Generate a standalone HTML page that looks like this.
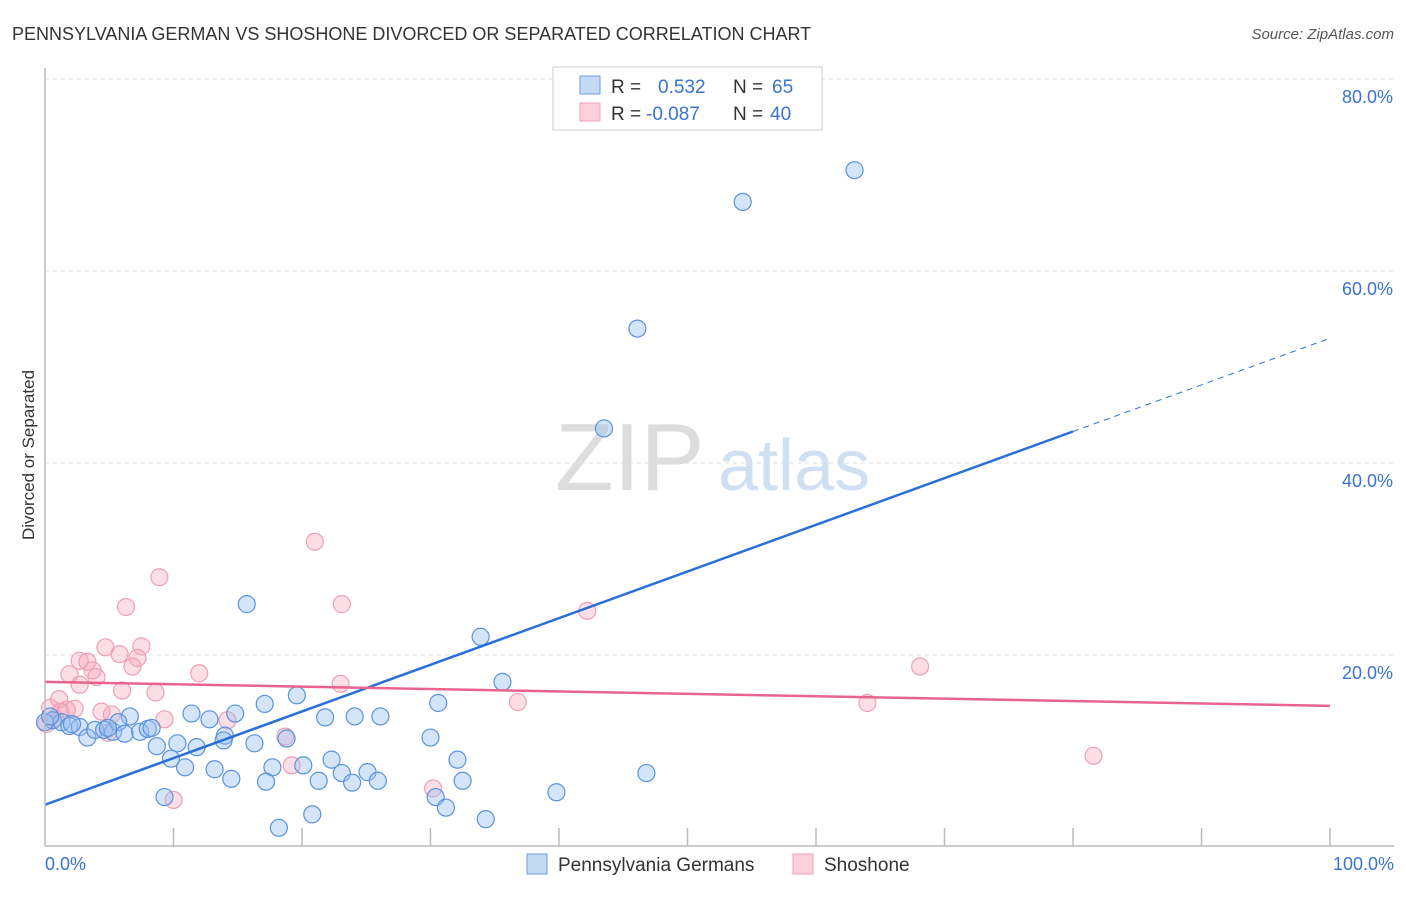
<!DOCTYPE html>
<html><head><meta charset="utf-8"><style>
body{margin:0;background:#fff;font-family:"Liberation Sans",sans-serif}
svg text{font-family:"Liberation Sans",sans-serif}
</style></head><body>
<svg width="1406" height="892" id="chart">
<text x="12" y="40" font-size="18" fill="#333">PENNSYLVANIA GERMAN VS SHOSHONE DIVORCED OR SEPARATED CORRELATION CHART</text>
<text x="1394" y="39" font-size="15" fill="#555" font-style="italic" text-anchor="end">Source: ZipAtlas.com</text>
<text transform="translate(34,455) rotate(-90)" font-size="17" fill="#333" text-anchor="middle">Divorced or Separated</text>
<text x="555" y="490" font-size="96" fill="#ddd" font-family="Liberation Serif">ZIP</text>
<text x="718" y="490" font-size="72" fill="#cfe0f3">atlas</text>
<g id="grid"></g><g id="pts"></g><g id="lines"></g>
<line x1="45" y1="68" x2="45" y2="846" stroke="#bbb" stroke-width="1.5"/>
<line x1="45" y1="846" x2="1394" y2="846" stroke="#bbb" stroke-width="1.5"/>
<text x="45" y="870" font-size="18" fill="#3a73d0">0.0%</text>
<text x="1394" y="870" font-size="18" fill="#3a73d0" text-anchor="end">100.0%</text>
<g>
<rect x="553" y="67" width="269" height="63" fill="#fff" stroke="#ccc"/>
<rect x="580" y="76" width="20" height="18" fill="#c5daf5" stroke="#6b9de0"/>
<rect x="580" y="103" width="20" height="18" fill="#fbd0dc" stroke="#eda3b8"/>
<text x="611" y="93" font-size="19" fill="#333">R =</text><text x="658" y="93" font-size="19" fill="#3a73d0">0.532</text>
<text x="733" y="93" font-size="19" fill="#333">N =</text><text x="772" y="93" font-size="19" fill="#3a73d0">65</text>
<text x="611" y="120" font-size="19" fill="#333">R =</text><text x="646" y="120" font-size="19" fill="#3a73d0">-0.087</text>
<text x="733" y="120" font-size="19" fill="#333">N =</text><text x="770" y="120" font-size="19" fill="#3a73d0">40</text>
</g>
<g>
<rect x="527" y="854" width="20" height="20" fill="#c5daf5" stroke="#6b9de0"/>
<text x="558" y="871" font-size="19" fill="#333">Pennsylvania Germans</text>
<rect x="793" y="854" width="20" height="20" fill="#fbd0dc" stroke="#eda3b8"/>
<text x="824" y="871" font-size="19" fill="#333">Shoshone</text>
</g>
</svg>
<script>
const yTicks=[20,40,60,80];
const xTickMarks=[10,20,30,40,50,60,70,80,90,100];
const bluePx=[[855,170],[743,202],[638,329],[604,428],[247,604],[480,637],[502,682],[438,703],[265,704],[297,695],[192,714],[235,714],[325,717],[355,716],[381,716],[210,719],[130,716],[430,738],[458,760],[332,760],[303,765],[273,767],[185,767],[215,769],[231,779],[266,782],[319,781],[342,773],[352,783],[368,772],[378,781],[462,781],[647,773],[556,792],[164,797],[436,797],[446,808],[312,814],[486,819],[279,828],[225,736],[255,743],[286,739],[196,747],[177,743],[157,746],[171,759],[224,740],[53,720],[62,722],[70,726],[80,727],[88,738],[95,730],[104,730],[113,732],[118,722],[125,734],[140,732],[148,729],[152,728],[108,728],[45,722],[50,716],[72,724]];
const pinkPx=[[315,542],[159,577],[126,607],[342,604],[587,611],[106,647],[142,646],[119,654],[137,658],[80,661],[87,662],[69,674],[92,670],[96,677],[132,667],[199,673],[920,667],[341,684],[122,691],[156,692],[59,699],[67,710],[75,709],[518,702],[867,703],[101,712],[112,715],[165,719],[228,720],[50,708],[55,718],[46,724],[285,737],[108,733],[292,765],[433,788],[173,800],[1093,756],[60,712],[80,685]];
// data values in percent
const blueX=bluePx.map(p=>+((p[0]-45)/12.85).toFixed(1));
const blueY=bluePx.map(p=>+((847-p[1])/9.6).toFixed(1));
const pinkX=pinkPx.map(p=>+((p[0]-45)/12.85).toFixed(1));
const pinkY=pinkPx.map(p=>+((847-p[1])/9.6).toFixed(1));
const blueTrend=[4.4,0.486]; // intercept, slope
const pinkTrend=[17.2,-0.025];
const NS='http://www.w3.org/2000/svg';
const sx=v=>45+v*12.85, sy=v=>847-v*9.6;
function mk(t,a,p){const e=document.createElementNS(NS,t);for(const k in a)e.setAttribute(k,a[k]);p.appendChild(e);return e;}
const grid=document.getElementById('grid');
yTicks.forEach(t=>{
 const l=mk('line',{x1:45,x2:1394,y1:sy(t),y2:sy(t),stroke:'#ddd','stroke-dasharray':'4,4'},grid);
 
 
 const tx=mk('text',{x:1393,y:sy(t)+24,'font-size':18,fill:'#3a73d0','text-anchor':'end'},grid);
 tx.textContent=t.toFixed(1)+'%';
 
 
});
xTickMarks.forEach(t=>{
 const l=mk('line',{x1:sx(t),x2:sx(t),y1:828,y2:846,stroke:'#bbb','stroke-width':1.5},grid);
 
 
});
const pts=document.getElementById('pts');
pinkX.forEach((x,i)=>{
 const c=mk('circle',{cx:sx(x),cy:sy(pinkY[i]),r:8.5,fill:'rgba(245,160,185,0.35)',stroke:'#eea0b6','stroke-width':1.2},pts);
 
 
});
blueX.forEach((x,i)=>{
 const c=mk('circle',{cx:sx(x),cy:sy(blueY[i]),r:8.5,fill:'rgba(150,190,240,0.4)',stroke:'#5b92dd','stroke-width':1.2},pts);
 
 
});
const lines=document.getElementById('lines');
const bt=x=>blueTrend[0]+blueTrend[1]*x, pt=x=>pinkTrend[0]+pinkTrend[1]*x;
let l1=mk('line',{x1:sx(0),y1:sy(bt(0)),x2:sx(80),y2:sy(bt(80)),stroke:'#2a6fd6','stroke-width':2.5},lines);


let l2=mk('line',{x1:sx(80),y1:sy(bt(80)),x2:sx(100),y2:sy(bt(100)),stroke:'#2a6fd6','stroke-width':1,'stroke-dasharray':'6,5'},lines);


let l3=mk('line',{x1:sx(0),y1:sy(pt(0)),x2:sx(100),y2:sy(pt(100)),stroke:'#e8648e','stroke-width':2.5},lines);


</script>
</body></html>
